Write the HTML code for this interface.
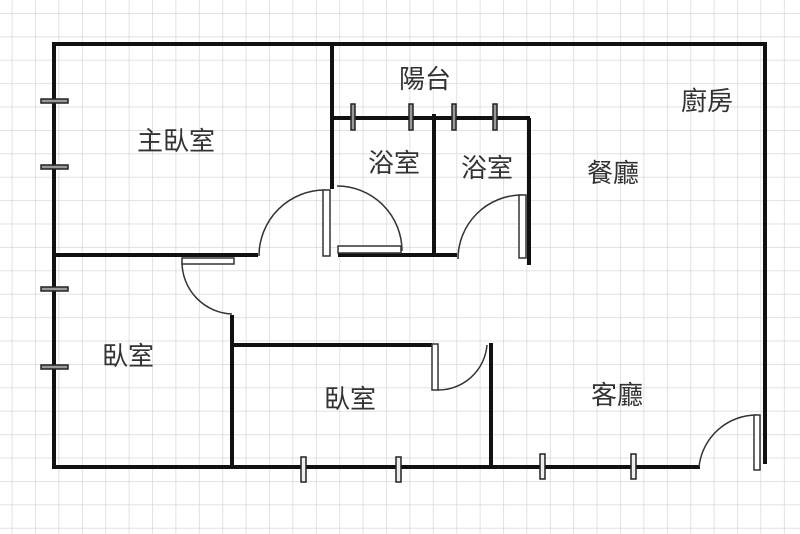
<!DOCTYPE html>
<html><head><meta charset="utf-8"><style>
html,body{margin:0;padding:0;background:#fff}
svg{display:block}
text{font-family:"Liberation Sans","Noto Sans CJK TC",sans-serif;font-size:26px;fill:#333;text-anchor:middle}
</style></head><body>
<svg width="800" height="534" viewBox="0 0 800 534" xmlns="http://www.w3.org/2000/svg">
<defs>
<pattern id="g" x="11.7" y="13" width="23.4" height="23.4" patternUnits="userSpaceOnUse">
<path d="M0 0H23.4M0 0V23.4" stroke="#d8d8d8" stroke-width="1.5" fill="none"/>
</pattern>
</defs>
<rect width="800" height="534" fill="#fff"/>
<rect width="800" height="534" fill="url(#g)"/>
<g stroke="#111" stroke-width="4" fill="none" stroke-linecap="square">
<path d="M54 44H765V462"/>
<path d="M54 44V467H698"/>
<path d="M332 44V187"/>
<path d="M54 255H256"/>
<path d="M332 118H528"/>
<path d="M434 116V255"/>
<path d="M340 255H455"/>
<path d="M529 120V263"/>
<path d="M232 317V467"/>
<path d="M232 345H430"/>
<path d="M491 345V467"/>
</g>
<g stroke="#333" stroke-width="1.5" fill="none">
<path d="M325 190A66 66 0 0 0 259 256"/>
<path d="M337 186A65 65 0 0 1 402 251"/>
<path d="M522 195A64 64 0 0 0 458 259"/>
<path d="M182 262A52 52 0 0 0 232 314"/>
<path d="M438 390A49 49 0 0 0 487 345"/>
<path d="M757 415A58 58 0 0 0 699 467"/>
</g>
<g stroke="#333" stroke-width="1.5" fill="#fff">
<rect x="323" y="190" width="7" height="66"/>
<rect x="338" y="246" width="63" height="7"/>
<rect x="519" y="195" width="7" height="63"/>
<rect x="182" y="258" width="52" height="6"/>
<rect x="432" y="344" width="6" height="46"/>
<rect x="754" y="415" width="6" height="55"/>
</g>
<g stroke="#222" stroke-width="1.5" fill="#999">
<rect x="351" y="104" width="4" height="26"/>
<rect x="409" y="104" width="4" height="26"/>
<rect x="452" y="104" width="4" height="26"/>
<rect x="493" y="104" width="4" height="26"/>
<rect x="41" y="99" width="27" height="4"/>
<rect x="41" y="165" width="27" height="4"/>
<rect x="41" y="287" width="27" height="4"/>
<rect x="41" y="365" width="27" height="4"/>
</g>
<g stroke="#222" stroke-width="1.5" fill="#eee">
<rect x="301" y="457" width="5" height="25"/>
<rect x="396" y="457" width="5" height="25"/>
<rect x="540" y="454" width="5" height="25"/>
<rect x="631" y="454" width="5" height="25"/>
</g>
<text x="176" y="150">主臥室</text>
<text x="425" y="88">陽台</text>
<text x="394" y="172">浴室</text>
<text x="487" y="177">浴室</text>
<text x="613" y="182">餐廳</text>
<text x="707" y="110">廚房</text>
<text x="128" y="365">臥室</text>
<text x="350" y="408">臥室</text>
<text x="617" y="404">客廳</text>
</svg>
</body></html>
